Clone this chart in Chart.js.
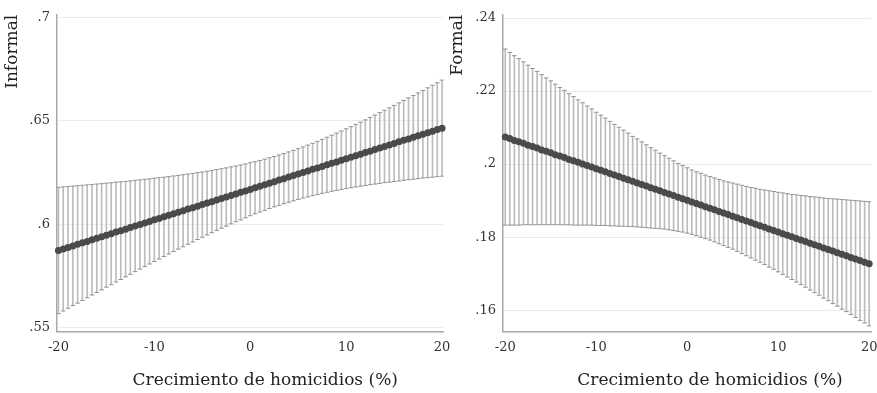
<!DOCTYPE html>
<html>
<head>
<meta charset="utf-8">
<title>Crecimiento de homicidios: Informal y Formal</title>
<script src="https://cdn.jsdelivr.net/npm/chart.js@4/dist/chart.umd.min.js"></script>
<style>
  html, body { margin: 0; padding: 0; background: #ffffff; }
  #wrap { position: relative; width: 877px; height: 393px; }
  #wrap canvas { position: absolute; left: 0; top: 0; }
</style>
</head>
<body>
<div id="wrap">
  <canvas id="cInformal" width="877" height="393"></canvas>
  <canvas id="cFormal" width="877" height="393"></canvas>
</div>
<script>
// Homicide growth (%) at which the predictions are evaluated
const growth = [
  -20, -19.5, -19, -18.5, -18, -17.5, -17, -16.5, -16, -15.5,
  -15, -14.5, -14, -13.5, -13, -12.5, -12, -11.5, -11, -10.5,
  -10, -9.5, -9, -8.5, -8, -7.5, -7, -6.5, -6, -5.5,
  -5, -4.5, -4, -3.5, -3, -2.5, -2, -1.5, -1, -0.5,
  0, 0.5, 1, 1.5, 2, 2.5, 3, 3.5, 4, 4.5,
  5, 5.5, 6, 6.5, 7, 7.5, 8, 8.5, 9, 9.5,
  10, 10.5, 11, 11.5, 12, 12.5, 13, 13.5, 14, 14.5,
  15, 15.5, 16, 16.5, 17, 17.5, 18, 18.5, 19, 19.5,
  20
];

// Informal: predicted value and 95% confidence bounds
const informalEst = [
  .5873, .5880, .5888, .5895, .5903, .5910, .5917, .5925, .5932, .5940,
  .5947, .5954, .5962, .5969, .5976, .5984, .5991, .5999, .6006, .6013,
  .6021, .6028, .6036, .6043, .6050, .6058, .6065, .6073, .6080, .6087,
  .6095, .6102, .6109, .6117, .6124, .6132, .6139, .6146, .6154, .6161,
  .6168, .6176, .6183, .6191, .6198, .6205, .6213, .6220, .6228, .6235,
  .6242, .6250, .6257, .6265, .6272, .6279, .6287, .6294, .6301, .6309,
  .6316, .6324, .6331, .6338, .6346, .6353, .6361, .6368, .6375, .6383,
  .6390, .6398, .6405, .6412, .6420, .6427, .6434, .6442, .6449, .6457,
  .6464
];
const informalHi = [
  .6178, .6180, .6182, .6184, .6186, .6188, .6190, .6192, .6194, .6196,
  .6198, .6200, .6203, .6205, .6207, .6209, .6212, .6214, .6217, .6219,
  .6222, .6225, .6227, .6230, .6233, .6236, .6239, .6242, .6245, .6249,
  .6252, .6256, .6260, .6264, .6268, .6272, .6277, .6281, .6286, .6291,
  .6297, .6302, .6308, .6314, .6321, .6327, .6334, .6341, .6349, .6357,
  .6365, .6373, .6382, .6391, .6400, .6410, .6420, .6430, .6440, .6450,
  .6461, .6471, .6482, .6493, .6504, .6516, .6527, .6539, .6550, .6562,
  .6574, .6586, .6598, .6610, .6622, .6634, .6646, .6659, .6671, .6683,
  .6696
];
const informalLo = [
  .5568, .5581, .5594, .5607, .5619, .5632, .5645, .5658, .5670, .5683,
  .5696, .5708, .5721, .5733, .5746, .5758, .5771, .5783, .5795, .5808,
  .5820, .5832, .5844, .5856, .5868, .5880, .5891, .5903, .5914, .5926,
  .5937, .5948, .5959, .5970, .5981, .5991, .6002, .6012, .6021, .6031,
  .6041, .6050, .6059, .6067, .6076, .6084, .6091, .6099, .6106, .6113,
  .6120, .6126, .6132, .6138, .6143, .6149, .6154, .6159, .6163, .6168,
  .6172, .6176, .6180, .6184, .6187, .6191, .6194, .6197, .6201, .6203,
  .6206, .6209, .6212, .6215, .6217, .6220, .6223, .6225, .6227, .6230,
  .6232
];

// Formal: predicted value and 95% confidence bounds
const formalEst = [
  .2074, .2070, .2065, .2061, .2057, .2052, .2048, .2044, .2039, .2035,
  .2031, .2026, .2022, .2018, .2013, .2009, .2005, .2000, .1996, .1992,
  .1987, .1983, .1979, .1974, .1970, .1966, .1961, .1957, .1953, .1948,
  .1944, .1940, .1935, .1931, .1927, .1922, .1918, .1914, .1909, .1905,
  .1901, .1896, .1892, .1888, .1883, .1879, .1875, .1870, .1866, .1862,
  .1857, .1853, .1848, .1844, .1840, .1835, .1831, .1827, .1822, .1818,
  .1814, .1809, .1805, .1801, .1796, .1792, .1788, .1783, .1779, .1775,
  .1770, .1766, .1762, .1757, .1753, .1749, .1744, .1740, .1736, .1731,
  .1727
];
const formalHi = [
  .2315, .2306, .2297, .2289, .2280, .2271, .2262, .2254, .2245, .2236,
  .2228, .2219, .2210, .2202, .2193, .2185, .2176, .2168, .2159, .2151,
  .2142, .2134, .2126, .2117, .2109, .2101, .2093, .2085, .2076, .2069,
  .2061, .2053, .2045, .2038, .2030, .2023, .2016, .2009, .2002, .1996,
  .1990, .1984, .1979, .1975, .1970, .1966, .1962, .1958, .1954, .1951,
  .1948, .1945, .1942, .1939, .1936, .1934, .1931, .1929, .1927, .1925,
  .1923, .1921, .1919, .1917, .1916, .1914, .1913, .1911, .1910, .1909,
  .1907, .1906, .1905, .1904, .1903, .1902, .1901, .1900, .1899, .1898,
  .1897
];
const formalLo = [
  .1833, .1833, .1833, .1833, .1834, .1834, .1834, .1834, .1834, .1834,
  .1834, .1834, .1834, .1834, .1834, .1833, .1833, .1833, .1833, .1833,
  .1832, .1832, .1832, .1831, .1831, .1830, .1830, .1829, .1829, .1828,
  .1827, .1826, .1825, .1824, .1823, .1822, .1820, .1818, .1816, .1814,
  .1811, .1808, .1804, .1800, .1796, .1792, .1787, .1782, .1777, .1772,
  .1767, .1761, .1755, .1749, .1743, .1737, .1731, .1725, .1718, .1712,
  .1705, .1698, .1691, .1684, .1677, .1670, .1663, .1655, .1648, .1641,
  .1633, .1626, .1618, .1611, .1603, .1596, .1588, .1580, .1572, .1565,
  .1557
];

// Axis ticks and their printed labels
const xTicks = [-20, -10, 0, 10, 20];
const xTickLabels = ['-20', '-10', '0', '10', '20'];
const informalTicks = [0.55, 0.6, 0.65, 0.7];
const informalTickLabels = ['.55', '.6', '.65', '.7'];
const formalTicks = [0.16, 0.18, 0.2, 0.22, 0.24];
const formalTickLabels = ['.16', '.18', '.2', '.22', '.24'];

const xTitle = 'Crecimiento de homicidios (%)';

const FONT_FAMILY = "'DejaVu Serif', 'Liberation Serif', serif";
Chart.defaults.font.family = FONT_FAMILY;
Chart.defaults.color = '#333333';

const BAR_COLOR = '#bcbcbc';
const CAP_COLOR = '#959595';
const DOT_COLOR = '#4a4a4a';
const AXIS_COLOR = '#a9a9a9';
const GRID_COLOR = '#ececec';
const TITLE_COLOR = '#222222';

// Bottom axis title, set a little to the right of the plot centre
const xTitlePlugin = {
  id: 'xTitleOffset',
  afterDraw(chart, args, opts) {
    const { ctx, chartArea } = chart;
    ctx.save();
    ctx.font = '17px ' + FONT_FAMILY;
    ctx.fillStyle = TITLE_COLOR;
    ctx.textAlign = 'center';
    ctx.textBaseline = 'middle';
    ctx.fillText(opts.text, (chartArea.left + chartArea.right) / 2 + opts.shift, opts.y);
    ctx.restore();
  }
};

function makePanel(canvasId, p) {
  const bars = growth.map((g, i) => ({ x: g, y: [p.lo[i], p.hi[i]] }));
  const hiCaps = growth.map((g, i) => ({ x: g, y: p.hi[i] }));
  const loCaps = growth.map((g, i) => ({ x: g, y: p.lo[i] }));
  const dots = growth.map((g, i) => ({ x: g, y: p.est[i] }));

  const capSet = (data) => ({
    type: 'line',
    data,
    showLine: false,
    pointStyle: 'line',
    pointRadius: 2.3,
    pointBorderWidth: 1,
    pointBorderColor: CAP_COLOR,
    pointBackgroundColor: CAP_COLOR,
    order: 1
  });

  return new Chart(document.getElementById(canvasId), {
    type: 'bar',
    plugins: [xTitlePlugin],
    data: {
      datasets: [
        {
          type: 'bar',
          data: bars,
          backgroundColor: BAR_COLOR,
          borderWidth: 0,
          borderSkipped: false,
          barThickness: 1,
          order: 2
        },
        capSet(hiCaps),
        capSet(loCaps),
        {
          type: 'line',
          data: dots,
          showLine: false,
          pointStyle: 'circle',
          pointRadius: 3.5,
          pointBorderWidth: 0,
          pointBackgroundColor: DOT_COLOR,
          pointBorderColor: DOT_COLOR,
          clip: 4,
          order: 0
        }
      ]
    },
    options: {
      responsive: false,
      animation: false,
      devicePixelRatio: 1,
      events: [],
      layout: { padding: p.padding },
      plugins: {
        legend: { display: false },
        tooltip: { enabled: false },
        xTitleOffset: { text: xTitle, shift: p.xTitleShift, y: 380.5 }
      },
      scales: {
        x: {
          type: 'linear',
          min: p.xMin,
          max: p.xMax,
          offset: false,
          afterBuildTicks: (s) => { s.ticks = xTicks.map(v => ({ value: v })); },
          afterFit: (s) => { s.height = 61.3; s.paddingLeft = 0; s.paddingRight = 0; },
          grid: { display: false, drawTicks: false, offset: false },
          border: { display: true, color: AXIS_COLOR, width: 1.5 },
          ticks: {
            callback: (v, i) => xTickLabels[i],
            padding: 8,
            maxRotation: 0,
            autoSkip: false,
            font: { size: 13 },
            color: '#333333'
          },
          title: { display: false }
        },
        y: {
          type: 'linear',
          min: p.yMin,
          max: p.yMax,
          beginAtZero: false,
          afterBuildTicks: (s) => { s.ticks = p.yTicks.map(v => ({ value: v })); },
          afterFit: (s) => { s.width = p.yWidth; },
          grid: { color: GRID_COLOR, lineWidth: 1, drawTicks: false },
          border: { display: true, color: AXIS_COLOR, width: 1.5 },
          ticks: {
            callback: (v, i) => p.yTickLabels[i],
            padding: 7,
            font: { size: 13 },
            color: '#333333'
          },
          title: {
            display: true,
            text: p.yTitle,
            align: 'end',
            color: TITLE_COLOR,
            font: { size: 17 },
            padding: { top: p.yTitlePad, bottom: 0 }
          }
        }
      }
    }
  });
}

makePanel('cInformal', {
  est: informalEst, lo: informalLo, hi: informalHi,
  yTitle: 'Informal',
  yTicks: informalTicks, yTickLabels: informalTickLabels,
  yMin: 0.54808, yMax: 0.70115,
  xMin: -20.15, xMax: 20.15,
  yWidth: 57, yTitlePad: 2.8, xTitleShift: 15,
  padding: { left: 0, top: 12.7, right: 433.5, bottom: 0 }
});

makePanel('cFormal', {
  est: formalEst, lo: formalLo, hi: formalHi,
  yTitle: 'Formal',
  yTicks: formalTicks, yTickLabels: formalTickLabels,
  yMin: 0.1541, yMax: 0.2409,
  xMin: -20.25, xMax: 20.2,
  yWidth: 63, yTitlePad: 7.3, xTitleShift: 23,
  padding: { left: 440, top: 12.7, right: 6, bottom: 0 }
});
</script>
</body>
</html>
